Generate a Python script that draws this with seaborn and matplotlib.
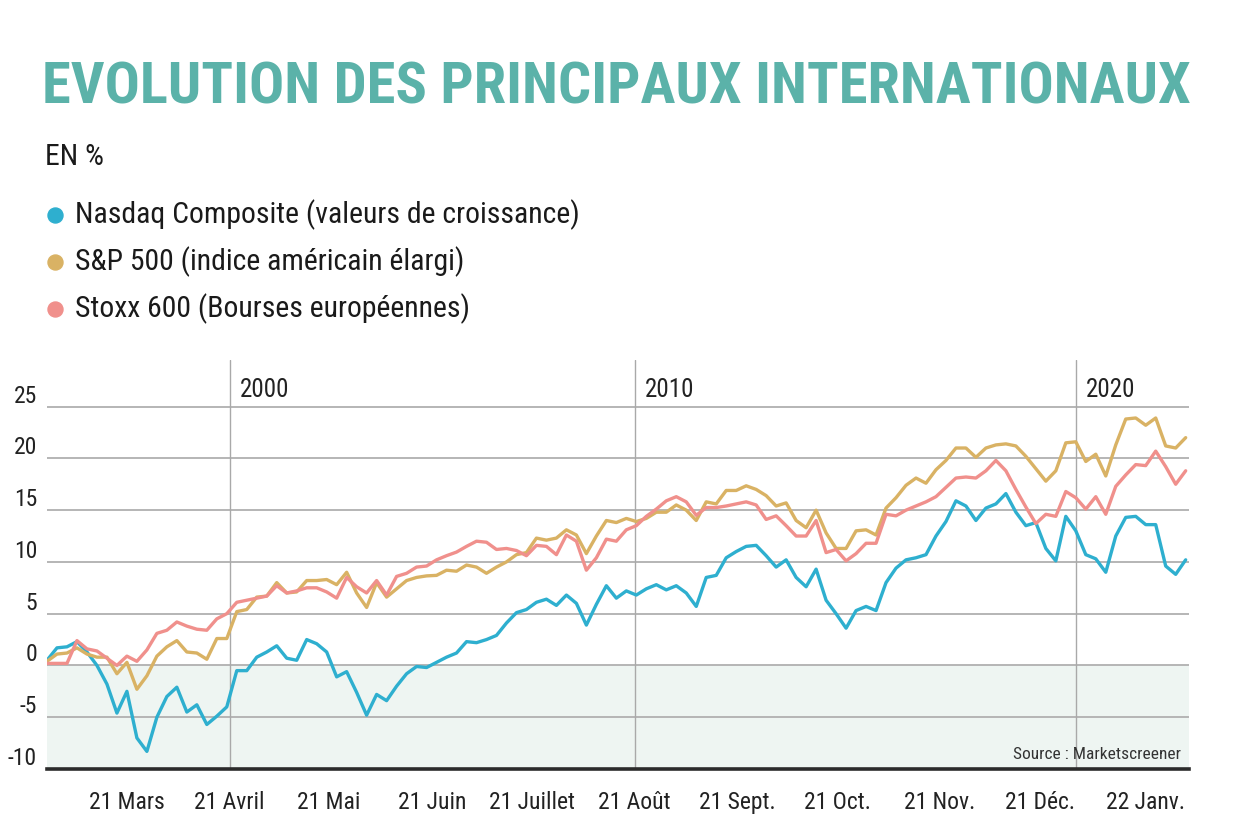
import numpy as np
import pandas as pd
import matplotlib
matplotlib.use('Agg')
import matplotlib.pyplot as plt
import matplotlib.dates as mdates
import matplotlib.transforms as mtransforms
from matplotlib import font_manager
from matplotlib.lines import Line2D
import seaborn as sns

# Data (one point every ~3 days)
dates = pd.date_range('2020-02-26', '2021-02-03', periods=115)

nasdaq = [0.5, 1.7, 1.8, 2.3, 1.3, 0.0, -1.8, -4.6, -2.5, -7.0,
          -8.3, -5.0, -3.0, -2.1, -4.5, -3.8, -5.7, -4.9, -4.0, -0.5,
          -0.5, 0.8, 1.3, 1.9, 0.7, 0.5, 2.5, 2.1, 1.3, -1.1,
          -0.6, -2.6, -4.8, -2.8, -3.4, -2.0, -0.8, -0.1, -0.2, 0.3,
          0.8, 1.2, 2.3, 2.2, 2.5, 2.9, 4.1, 5.1, 5.4, 6.1,
          6.4, 5.8, 6.8, 6.0, 3.9, 5.9, 7.7, 6.5, 7.2, 6.8,
          7.4, 7.8, 7.3, 7.7, 7.0, 5.7, 8.5, 8.7, 10.4, 11.0,
          11.5, 11.6, 10.6, 9.5, 10.2, 8.5, 7.6, 9.3, 6.3, 5.0,
          3.6, 5.3, 5.7, 5.3, 8.0, 9.4, 10.2, 10.4, 10.7, 12.5,
          13.9, 15.9, 15.4, 14.0, 15.2, 15.6, 16.6, 14.8, 13.5, 13.8,
          11.3, 10.1, 14.4, 13.0, 10.7, 10.3, 9.0, 12.5, 14.3, 14.4,
          13.6, 13.6, 9.6, 8.8, 10.2]

sp500 = [0.4, 1.1, 1.2, 1.7, 1.1, 0.8, 0.8, -0.8, 0.3, -2.3,
         -1.0, 0.9, 1.8, 2.4, 1.3, 1.2, 0.6, 2.6, 2.6, 5.2,
         5.4, 6.6, 6.7, 8.0, 7.0, 7.1, 8.2, 8.2, 8.3, 7.8,
         9.0, 7.0, 5.6, 8.0, 6.6, 7.4, 8.2, 8.5, 8.65, 8.7,
         9.2, 9.1, 9.7, 9.5, 8.9, 9.5, 10.0, 10.7, 10.9, 12.3,
         12.1, 12.3, 13.1, 12.6, 10.8, 12.5, 14.0, 13.8, 14.2, 13.9,
         14.2, 14.8, 14.8, 15.5, 15.0, 14.0, 15.8, 15.6, 16.9, 16.9,
         17.35, 17.0, 16.4, 15.4, 15.7, 14.0, 13.3, 15.0, 12.8, 11.3,
         11.3, 13.0, 13.1, 12.6, 15.2, 16.2, 17.4, 18.1, 17.6, 18.9,
         19.8, 21.0, 21.0, 20.1, 21.0, 21.3, 21.4, 21.2, 20.2, 19.0,
         17.8, 18.8, 21.5, 21.6, 19.7, 20.4, 18.3, 21.3, 23.8, 23.9,
         23.2, 23.9, 21.2, 21.0, 22.0]

stoxx = [0.2, 0.2, 0.2, 2.4, 1.6, 1.4, 0.7, 0.0, 0.9, 0.4,
         1.5, 3.1, 3.4, 4.2, 3.8, 3.5, 3.4, 4.5, 5.0, 6.1,
         6.3, 6.5, 6.7, 7.7, 7.0, 7.2, 7.5, 7.5, 7.1, 6.5,
         8.5, 7.6, 7.0, 8.2, 6.8, 8.6, 8.9, 9.5, 9.6, 10.2,
         10.6, 10.95, 11.5, 12.0, 11.9, 11.2, 11.3, 11.1, 10.6, 11.6,
         11.5, 10.7, 12.6, 12.0, 9.2, 10.4, 12.2, 12.0, 13.1, 13.5,
         14.4, 15.1, 15.9, 16.3, 15.8, 14.5, 15.25, 15.25, 15.4, 15.6,
         15.8, 15.5, 14.1, 14.45, 13.5, 12.5, 12.5, 14.0, 10.9, 11.2,
         10.1, 10.8, 11.8, 11.8, 14.6, 14.45, 15.0, 15.4, 15.8, 16.3,
         17.2, 18.1, 18.2, 18.1, 18.8, 19.8, 18.8, 17.0, 15.3, 13.7,
         14.6, 14.4, 16.8, 16.2, 15.1, 16.3, 14.6, 17.3, 18.4, 19.4,
         19.3, 20.7, 19.2, 17.5, 18.8]

series_names = ['Nasdaq Composite (valeurs de croissance)',
                'S&P 500 (indice américain élargi)',
                'Stoxx 600 (Bourses européennes)']
colors = ['#2eafcf', '#d9b264', '#f0908c']

tick_dates = ['2020-03-21', '2020-04-21', '2020-05-21', '2020-06-21', '2020-07-21',
              '2020-08-21', '2020-09-21', '2020-10-21', '2020-11-21', '2020-12-21',
              '2021-01-22']
tick_labels = ['21 Mars', '21 Avril', '21 Mai', '21 Juin', '21 Juillet', '21 Août',
               '21 Sept.', '21 Oct.', '21 Nov.', '21 Déc.', '22 Janv.']

year_dates = ['2020-04-21', '2020-08-21', '2021-01-01']
year_labels = ['2000', '2010', '2020']

y_values = [25, 20, 15, 10, 5, 0, -5, -10]

# Style / fonts
sns.set_style('white')
available = {f.name for f in font_manager.fontManager.ttflist}
narrow = next((n for n in ['Roboto Condensed', 'Liberation Sans Narrow',
                           'Open Sans Condensed', 'DejaVu Sans'] if n in available),
              'DejaVu Sans')
plt.rcParams['font.family'] = [narrow, 'DejaVu Sans']

W, H = 1237, 824
fig = plt.figure(figsize=(W / 100, H / 100), dpi=100)
ax = fig.add_axes([47 / W, 1 - 769 / H, 1142 / W, 409 / H])

df = pd.DataFrame({
    'date': np.tile(dates.values, 3),
    'valeur': nasdaq + sp500 + stoxx,
    'indice': np.repeat(series_names, len(dates)),
})
sns.lineplot(data=df, x='date', y='valeur', hue='indice',
             palette=dict(zip(series_names, colors)), linewidth=2.4,
             legend=False, ax=ax, zorder=3)

ax.set_xlim(pd.Timestamp('2020-02-26'), pd.Timestamp('2021-02-04'))
ax.set_ylim(-10, 29.5)

# background band below zero and grid
ax.axhspan(-10, 0, color='#eef5f2', lw=0, zorder=0)
for v in y_values[:-1]:
    ax.axhline(v, color='#b5b5b5', lw=1.4, zorder=1)
for d in year_dates:
    ax.axvline(pd.Timestamp(d), color='#a9a9a9', lw=1.0, zorder=1)

year_tr = mtransforms.offset_copy(ax.transData, fig=fig, x=10, y=0, units='dots')
for d, lab in zip(year_dates, year_labels):
    ax.text(mdates.date2num(pd.Timestamp(d)), 25.9, lab, transform=year_tr,
            ha='left', va='baseline', fontsize=18, color='#222222')

# y labels sit just above their gridline, left of the plot
ytr = mtransforms.offset_copy(ax.get_yaxis_transform(), fig=fig, x=0, y=4, units='dots')
for v in y_values:
    ax.text(-10 / 1142, v, str(v), transform=ytr, ha='right', va='baseline',
            fontsize=17, color='#222222', clip_on=False)

ax.set_xticks([mdates.date2num(pd.Timestamp(d)) for d in tick_dates])
ax.set_xticklabels(tick_labels, fontsize=17, color='#222222')
ax.tick_params(axis='x', direction='out', length=7, width=2, color='#2b2b2b', pad=9)
ax.set_yticks([])
ax.set_xlabel('')
ax.set_ylabel('')
sns.despine(ax=ax, left=True)
ax.spines['bottom'].set_linewidth(2.6)
ax.spines['bottom'].set_color('#2b2b2b')

fig.text(1181 / W, 1 - 759 / H, 'Source : Marketscreener', ha='right', va='baseline',
         fontsize=12.5, color='#333333')

renderer = fig.canvas.get_renderer()


def fit_width(txt, target_px):
    w = txt.get_window_extent(renderer).width
    txt.set_fontsize(txt.get_fontsize() * target_px / w)
    return txt.get_fontsize()


# title
title = fig.text(42 / W, 1 - 103 / H, 'EVOLUTION DES PRINCIPAUX INTERNATIONAUX',
                 color='#5bb2a9', fontweight='bold', fontsize=40, ha='left', va='baseline')
fit_width(title, 1146)

# legend (manual, as in the original)
labels = []
for i, (name, col) in enumerate(zip(series_names, colors)):
    base = 223 + 47 * i
    labels.append(fig.text(75 / W, 1 - base / H, name, fontsize=21, color='#1a1a1a',
                           ha='left', va='baseline'))
    fig.add_artist(Line2D([55 / W], [1 - (base - 8) / H], marker='o', markersize=10.8,
                          color=col, linestyle='none', transform=fig.transFigure))
size = fit_width(labels[0], 503)
for t in labels[1:]:
    t.set_fontsize(size)

fig.text(45 / W, 1 - 165 / H, 'EN %', fontsize=size, color='#1a1a1a', ha='left', va='baseline')

fig.savefig('out.png', dpi=100)
